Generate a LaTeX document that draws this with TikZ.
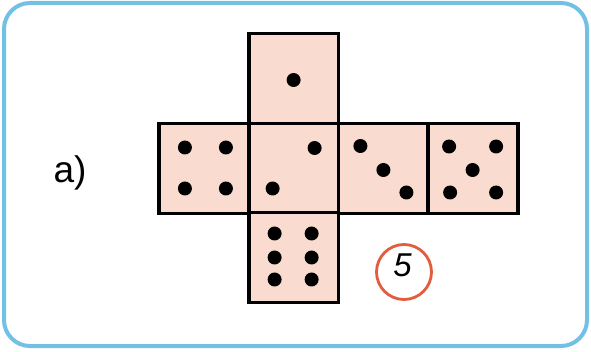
\documentclass[tikz,border=0pt]{standalone}
\usepackage{fontspec}
\setmainfont{Liberation Sans}
\usetikzlibrary{calc}
\definecolor{framecol}{HTML}{72C0E4}
\definecolor{facecol}{HTML}{F9DCCF}
\definecolor{ringcol}{HTML}{E45C3E}
\begin{document}
\begin{tikzpicture}[x=1pt,y=-1pt,
  face/.style={draw=black,line width=3.6pt,fill=facecol,minimum size=89.75pt,inner sep=0pt,outer sep=0pt},
  pip/.style={fill=black},
  ring/.style={draw=ringcol,line width=2.8pt,circle,minimum size=55pt,inner sep=0pt}]
\useasboundingbox (0,0) rectangle (591,352);
\draw[framecol,line width=4pt,rounded corners=26pt] (4,3) rectangle (587,346);
% faces
\node[face] (T)  at (293.6,78.5) {};
\node[face] (L)  at (203.9,168.5) {};
\node[face] (C)  at (293.6,168.5) {};
\node[face] (R3) at (383.4,168.5) {};
\node[face] (R5) at (473.1,168.5) {};
\node[face] (B)  at (293.6,257.5) {};
% pips
\def\pr{7}
\fill[pip] ($(T)+(0,1.5)$) circle (\pr);
\foreach \dx/\dy in {-19/-21,22/-21,-19/20,22/20}
  \fill[pip] ($(L)+(\dx,\dy)$) circle (\pr);
\foreach \dx/\dy in {21/-20.5,-21/20}
  \fill[pip] ($(C)+(\dx,\dy)$) circle (\pr);
\foreach \dx/\dy in {-23/-22.5,0/1.5,23/24}
  \fill[pip] ($(R3)+(\dx,\dy)$) circle (\pr);
\foreach \dx/\dy in {-24/-22,23/-22,-0.5/1.5,-23/24,23/24}
  \fill[pip] ($(R5)+(\dx,\dy)$) circle (\pr);
\foreach \dx/\dy in {-19/-24,18/-24,-19/0,18/0,-19/22,18/22}
  \fill[pip] ($(B)+(\dx,\dy)$) circle (\pr);
% labels
\node[anchor=base,font=\fontsize{37}{40}\selectfont,inner sep=0pt] (lab) at (70,183) {a)};
\node[ring] (ring) at (404,272) {};
\node[font=\fontsize{33}{35}\selectfont\itshape,inner sep=0pt,anchor=base] (five) at (402.5,276.5) {5};
\end{tikzpicture}
\end{document}
